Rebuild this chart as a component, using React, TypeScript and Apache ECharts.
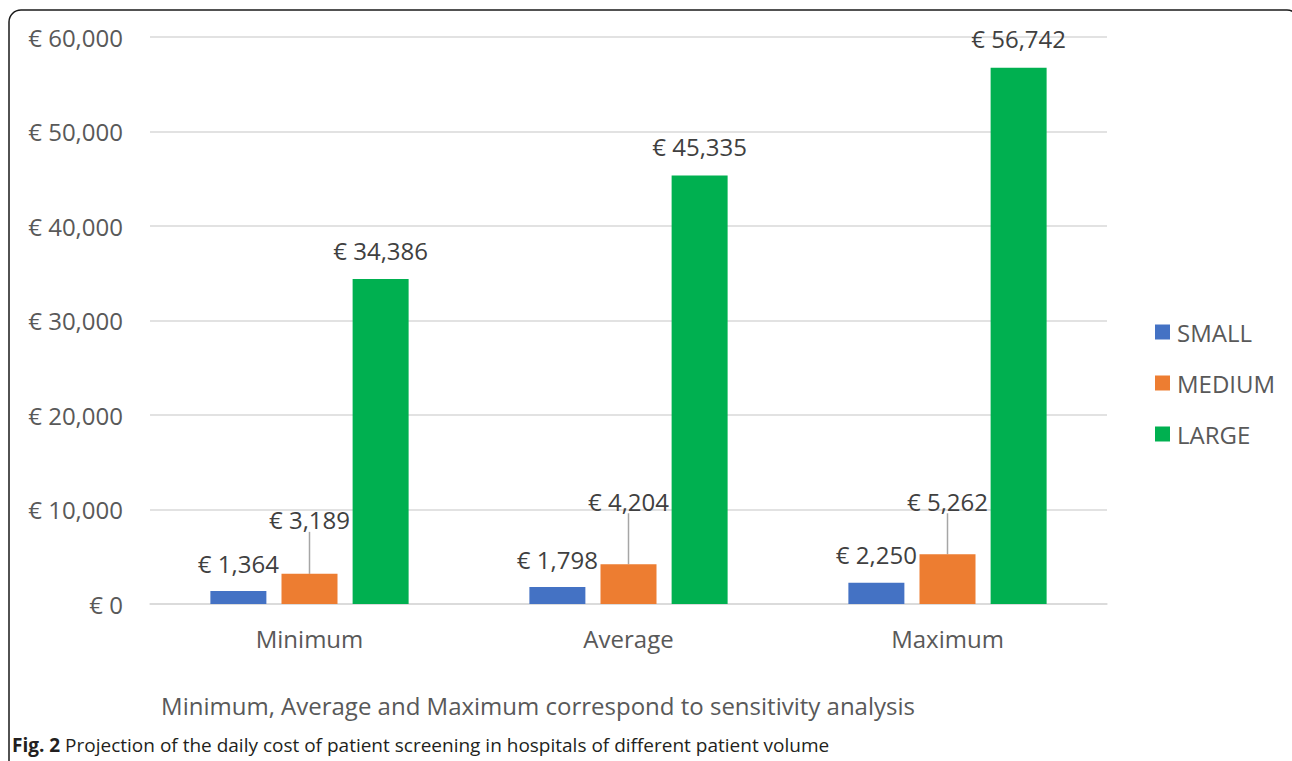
import React, { useEffect, useRef } from "react";
import * as echarts from "echarts";

const categories = ["Minimum", "Average", "Maximum"];
const smallValues = [1364, 1798, 2250];
const mediumValues = [3189, 4204, 5262];
const largeValues = [34386, 45335, 56742];
const seriesNames = ["SMALL", "MEDIUM", "LARGE"];
const yTicks = { min: 0, max: 60000, interval: 10000 };
const subtitle = "Minimum, Average and Maximum correspond to sensitivity analysis";
const captionBold = "Fig. 2";
const captionText = "Projection of the daily cost of patient screening in hospitals of different patient volume";

const mediumLabelShift = [-26, -35, -25];

const FONT = "'Open Sans', 'Noto Sans', sans-serif";
const FS = 24;
const fmt = (v: number) => "€ " + v.toLocaleString("en-US");

export default function App() {
  const ref = useRef<HTMLDivElement>(null);
  useEffect(() => {
    if (!ref.current) return;
    const chart = echarts.init(ref.current, null, { renderer: "svg" });
    const labelBase = {
      show: true,
      position: "top" as const,
      distance: 16,
      fontFamily: FONT,
      fontSize: FS,
      color: "#404040",
      formatter: (p: any) => fmt(p.value),
    };
    chart.setOption({
      animation: false,
      backgroundColor: "#ffffff",
      textStyle: { fontFamily: FONT },
      grid: { left: 150, right: 185, top: 37, bottom: 157, containLabel: false },
      legend: {
        orient: "vertical",
        left: 1155,
        top: 320,
        padding: 0,
        itemWidth: 15,
        itemHeight: 15,
        itemGap: 27,
        icon: "rect",
        textStyle: { fontFamily: FONT, fontSize: FS, color: "#595959", padding: [0, 0, 0, 2] },
        data: seriesNames,
      },
      xAxis: {
        type: "category",
        data: categories,
        axisLine: { lineStyle: { color: "#d9d9d9", width: 1.5 } },
        axisTick: { show: false },
        axisLabel: { fontFamily: FONT, fontSize: FS, color: "#595959", margin: 22 },
      },
      yAxis: {
        type: "value",
        min: yTicks.min,
        max: yTicks.max,
        interval: yTicks.interval,
        axisLine: { show: false },
        axisTick: { show: false },
        splitLine: { lineStyle: { color: "#d9d9d9", width: 1.5 } },
        axisLabel: {
          fontFamily: FONT,
          fontSize: FS,
          color: "#595959",
          margin: 27,
          formatter: (v: number) => fmt(v),
        },
      },
      series: [
        {
          name: seriesNames[0],
          type: "bar",
          data: smallValues,
          barWidth: 56,
          barGap: "27%",
          itemStyle: { color: "#4472C4" },
          label: labelBase,
        },
        {
          name: seriesNames[1],
          type: "bar",
          data: mediumValues,
          barWidth: 56,
          barGap: "27%",
          itemStyle: { color: "#ED7D31" },
          label: labelBase,
          labelLine: { show: true, lineStyle: { color: "#a6a6a6", width: 1.5 } },
          labelLayout: (p: any) => ({ dy: mediumLabelShift[p.dataIndex] }),
        },
        {
          name: seriesNames[2],
          type: "bar",
          data: largeValues,
          barWidth: 56,
          barGap: "27%",
          itemStyle: { color: "#00B050" },
          label: { ...labelBase, distance: 17 },
        },
      ],
      graphic: [
        {
          type: "rect",
          shape: { x: 9, y: 10, width: 1290, height: 780, r: 12 },
          style: { fill: "none", stroke: "#1a1a1a", lineWidth: 1.5 },
          silent: true,
          z: -1,
        },
        {
          type: "text",
          x: 538,
          y: 705,
          style: {
            text: subtitle,
            fontFamily: FONT,
            fontSize: FS,
            fill: "#595959",
            align: "center",
            verticalAlign: "middle",
          },
        },
        {
          type: "text",
          x: 12,
          y: 745,
          style: {
            text: "{b|" + captionBold + "} " + captionText,
            fontFamily: FONT,
            fontSize: 19,
            fill: "#231f20",
            align: "left",
            verticalAlign: "middle",
            rich: {
              b: {
                fontFamily: FONT,
                fontWeight: "bold",
                fontSize: 19,
                fill: "#231f20",
              },
            },
          },
        },
      ],
    });
    return () => chart.dispose();
  }, []);
  return (
    <div
      ref={ref}
      style={{ position: "fixed", left: 0, top: 0, width: 1292, height: 761 }}
    />
  );
}
